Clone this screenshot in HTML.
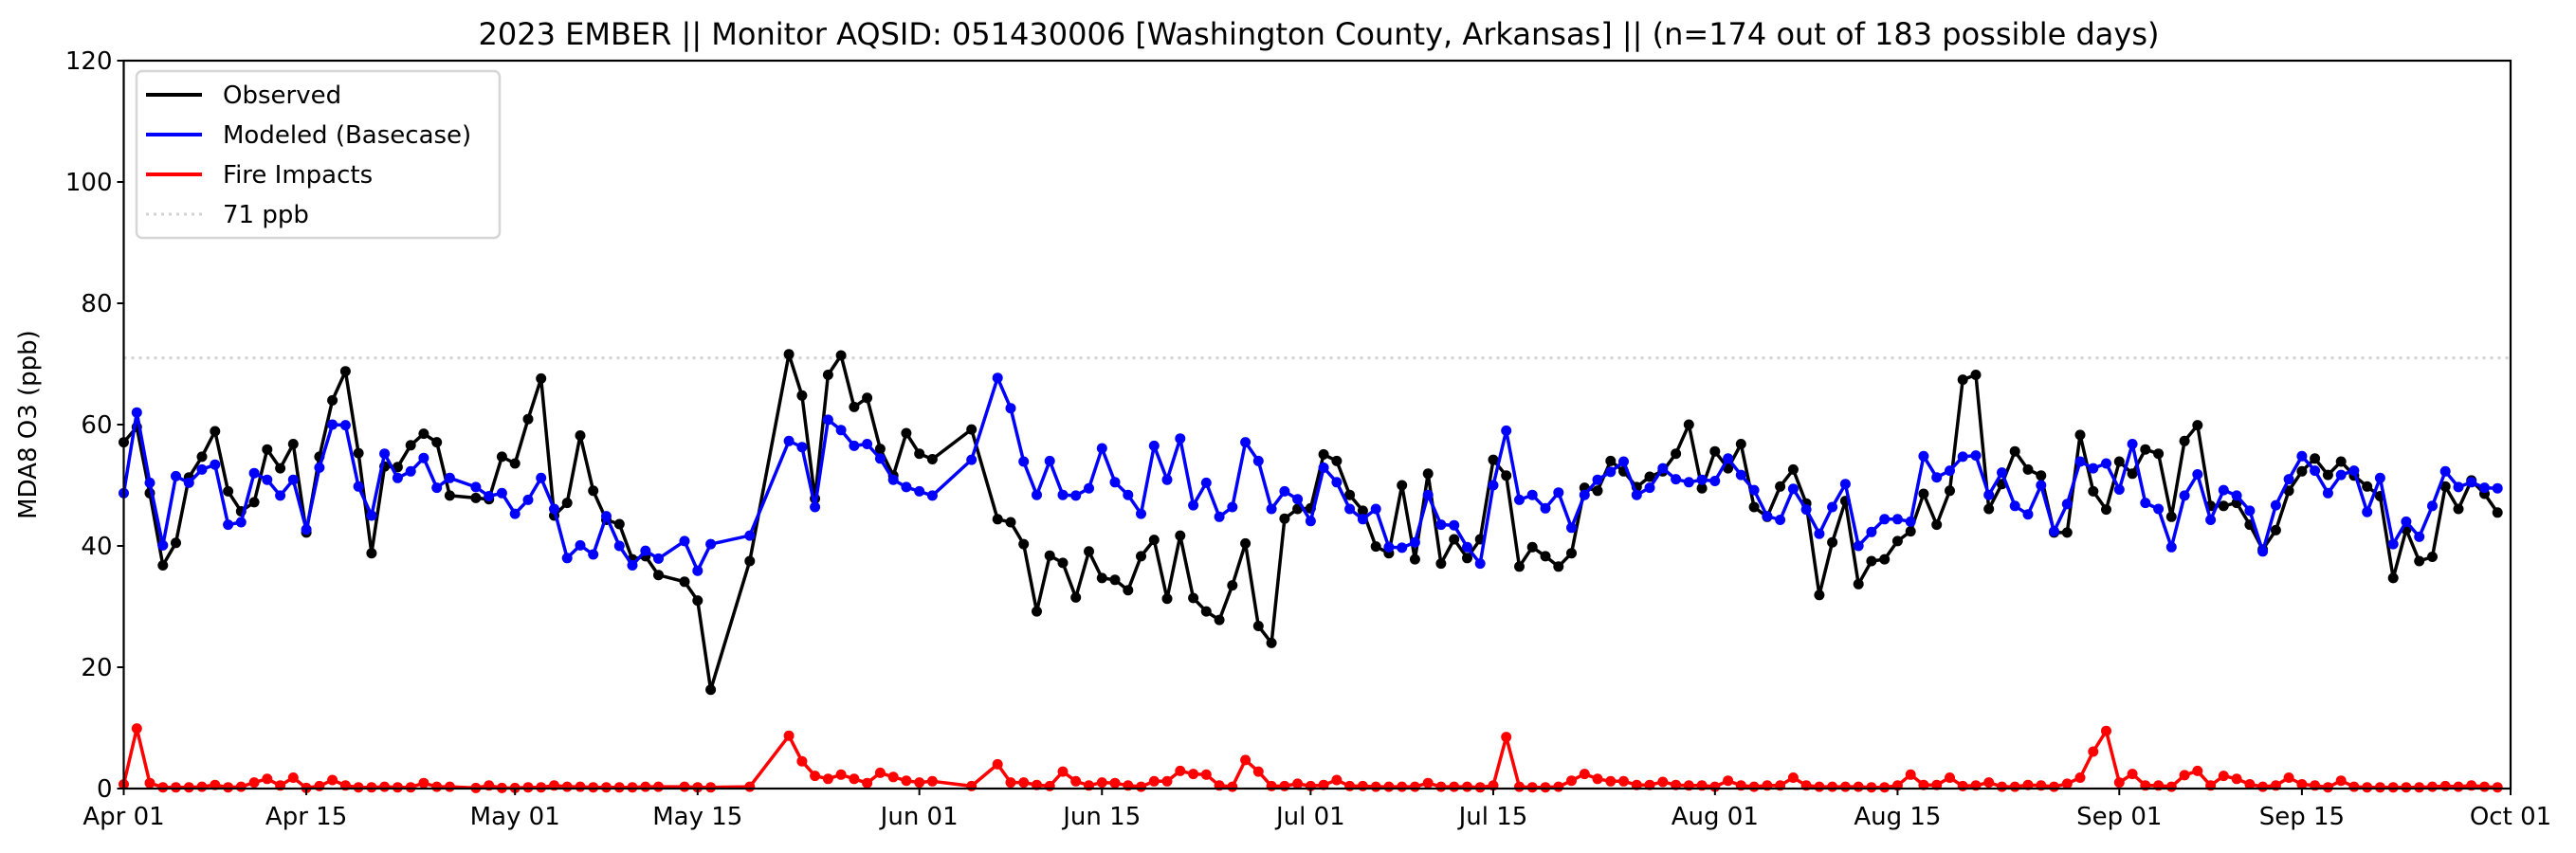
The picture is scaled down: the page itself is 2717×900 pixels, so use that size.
<!DOCTYPE html>
<html><head><meta charset="utf-8"><style>
html,body{margin:0;padding:0;background:#fff;}
svg{display:block;font-family:"DejaVu Sans","Liberation Sans",sans-serif;}
</style></head><body>
<svg id="chart" width="2717" height="900" viewBox="0 0 2717 900" xmlns="http://www.w3.org/2000/svg">
<rect x="0" y="0" width="2717" height="900" fill="#fff"/>
<text x="1391" y="47" font-size="32" text-anchor="middle">2023 EMBER || Monitor AQSID: 051430006 [Washington County, Arkansas] || (n=174 out of 183 possible days)</text>
<text transform="translate(38,448) rotate(-90)" font-size="26" text-anchor="middle">MDA8 O3 (ppb)</text>
<g id="grid"></g>
<g id="series"></g>
<g id="axes"></g>
<g>
<rect x="144" y="75" width="383" height="176" rx="6" fill="#fff" fill-opacity="0.8" stroke="#d6d6d6" stroke-width="2.5"/>
<line x1="154" y1="100" x2="213" y2="100" stroke="#000" stroke-width="4"/>
<text x="235" y="109" font-size="26">Observed</text>
<line x1="154" y1="142" x2="213" y2="142" stroke="#0000ff" stroke-width="4"/>
<text x="235" y="151" font-size="26">Modeled (Basecase)</text>
<line x1="154" y1="184" x2="213" y2="184" stroke="#ff0000" stroke-width="4"/>
<text x="235" y="193" font-size="26">Fire Impacts</text>
<line x1="154" y1="226" x2="213" y2="226" stroke="#d3d3d3" stroke-width="3" stroke-dasharray="3,5"/>
<text x="235" y="235" font-size="26">71 ppb</text>
</g>
</svg>
<script>
const N = null;
const observed = [57.1,59.6,48.7,36.8,40.5,51.3,54.7,58.9,49,45.7,47.2,55.9,52.8,56.8,42.2,54.7,64,68.8,55.3,38.8,53.1,53,56.6,58.5,57.1,48.3,N,47.9,47.7,54.7,53.6,60.9,67.6,45,47.1,58.2,49.1,44.3,43.6,37.8,38.3,35.2,N,34.1,31,16.3,N,N,37.5,N,N,71.6,64.8,47.8,68.2,71.4,62.9,64.4,56,51.6,58.6,55.2,54.3,N,N,59.2,N,44.4,43.9,40.3,29.2,38.4,37.2,31.5,39.1,34.7,34.4,32.7,38.3,41,31.3,41.7,31.4,29.2,27.8,33.5,40.4,26.8,24,44.5,46.1,46.2,55.1,54,48.4,45.8,39.9,38.8,50,37.8,51.9,37.1,41.1,38,41.1,54.2,51.6,36.6,39.8,38.3,36.6,38.8,49.6,49.1,54,52.3,49.7,51.4,52.3,55.2,60,49.5,55.6,52.8,56.8,46.4,44.8,49.8,52.6,47,31.9,40.6,47.4,33.7,37.5,37.8,40.8,42.4,48.6,43.5,49.1,67.4,68.2,46.1,50.2,55.6,52.6,51.6,42.2,42.2,58.3,49,46,53.9,51.9,55.9,55.2,44.8,57.3,59.9,46.6,46.6,47.1,43.5,39.4,42.6,49.1,52.3,54.4,51.7,53.9,51.6,49.8,48.2,34.7,42.7,37.5,38.2,49.8,46.1,50.8,48.6,45.5];
const modeled = [48.7,62,50.4,40.1,51.5,50.4,52.6,53.4,43.5,43.9,52,50.9,48.3,50.9,42.7,52.9,60,59.9,49.8,45,55.2,51.2,52.3,54.5,49.6,51.2,N,49.7,48.2,48.7,45.3,47.6,51.2,46.1,38,40.1,38.6,44.9,40,36.8,39.2,37.9,N,40.8,35.9,40.3,N,N,41.7,N,N,57.3,56.3,46.4,60.8,59.1,56.5,56.8,54.4,50.9,49.7,49,48.3,N,N,54.2,N,67.7,62.7,53.9,48.4,54,48.4,48.3,49.5,56.1,50.5,48.4,45.3,56.5,50.9,57.7,46.7,50.4,44.8,46.4,57.1,54,46.1,49,47.7,44.1,52.9,50.5,46.1,44.4,46.1,39.8,39.7,40.6,48.4,43.5,43.4,39.8,37.1,50,59,47.6,48.4,46.2,48.8,43,48.4,50.9,52.2,53.9,48.4,49.6,52.8,51,50.5,50.9,50.7,54.4,51.7,49.2,44.9,44.3,49.4,46,42,46.4,50.2,40,42.3,44.4,44.4,44,54.8,51.3,52.4,54.7,54.9,48.4,52.1,46.6,45.2,50,42.4,46.9,53.9,52.8,53.6,49.3,56.8,47.1,46.1,39.8,48.3,51.8,44.3,49.2,48.3,45.8,39.1,46.7,51,54.8,52.4,48.7,51.7,52.4,45.6,51.2,40.3,44,41.5,46.6,52.3,49.7,50.5,49.6,49.5];
const fire = [0.7,9.9,0.9,0.2,0.2,0.2,0.3,0.6,0.2,0.3,1,1.6,0.5,1.8,0.1,0.4,1.4,0.5,0.2,0.2,0.3,0.2,0.2,0.9,0.3,0.3,N,0.1,0.5,0.1,0.1,0.2,0.2,0.5,0.3,0.3,0.2,0.2,0.2,0.2,0.3,0.3,N,0.3,0.2,0.2,N,N,0.3,N,N,8.7,4.5,2.1,1.6,2.3,1.6,0.9,2.6,1.9,1.3,1,1.2,N,N,0.4,N,4,1,1,0.6,0.4,2.8,1.2,0.5,1,0.9,0.5,0.3,1.2,1.2,2.9,2.4,2.3,0.5,0.3,4.7,2.8,0.4,0.4,0.8,0.4,0.6,1.4,0.4,0.4,0.3,0.3,0.3,0.3,0.9,0.3,0.3,0.3,0.2,0.5,8.5,0.3,0.2,0.2,0.3,1.3,2.4,1.6,1.2,1.2,0.6,0.6,1.1,0.6,0.5,0.5,0.3,1.3,0.5,0.3,0.5,0.5,1.8,0.5,0.3,0.3,0.3,0.3,0.2,0.2,0.5,2.3,0.6,0.6,1.8,0.4,0.5,1,0.3,0.3,0.6,0.5,0.3,0.8,1.8,6.1,9.5,1,2.4,0.5,0.5,0.3,2.2,2.9,0.5,2.1,1.6,0.7,0.3,0.5,1.8,0.7,0.5,0.2,1.3,0.3,0.2,0.2,0.2,0.2,0.2,0.3,0.4,0.3,0.5,0.3,0.2];
const xTickDays = [0,14,30,44,61,75,91,105,122,136,153,167,183];
const xTickLabels = ["Apr 01","Apr 15","May 01","May 15","Jun 01","Jun 15","Jul 01","Jul 15","Aug 01","Aug 15","Sep 01","Sep 15","Oct 01"];
const yTicks = [0,20,40,60,80,100,120];
const threshold = [71];

const L=130.5, R=2648, T=64, B=832, XMAX=183, YMAX=120;
const NS="http://www.w3.org/2000/svg";
function xs(d){return L+(R-L)*d/XMAX;}
function ys(v){return B-(B-T)*v/YMAX;}
function mk(tag,attrs,parent){const e=document.createElementNS(NS,tag);for(const k in attrs)e.setAttribute(k,attrs[k]);parent.appendChild(e);return e;}

const grid=document.getElementById('grid');
const th=mk('line',{x1:L,x2:R,y1:ys(threshold[0]),y2:ys(threshold[0]),stroke:'#d3d3d3','stroke-width':3,'stroke-dasharray':'3,5'},grid);



const series=document.getElementById('series');
function drawSeries(vals,color,name){
  const g=mk('g',{},series);
  
  
  let d='';
  vals.forEach((v,i)=>{if(v===null)return;d+=(d?'L':'M')+xs(i).toFixed(1)+','+ys(v).toFixed(1);});
  const p=mk('path',{d:d,fill:'none',stroke:color,'stroke-width':3.5,'stroke-linejoin':'round'},g);
  
  
  vals.forEach((v,i)=>{if(v===null)return;
    const c=mk('circle',{cx:xs(i).toFixed(1),cy:ys(v).toFixed(1),r:5.5,fill:color},g);
    
    
  });
}
drawSeries(observed,'#000000','observed');
drawSeries(modeled,'#0000ff','modeled');
drawSeries(fire,'#ff0000','fire-impacts');

const axes=document.getElementById('axes');
const frame=mk('rect',{x:L,y:T,width:R-L,height:B-T,fill:'none',stroke:'#000','stroke-width':2.2},axes);


yTicks.forEach(v=>{
  const t=mk('line',{x1:L-7,x2:L,y1:ys(v),y2:ys(v),stroke:'#000','stroke-width':2},axes);
  
  
  const tx=mk('text',{x:L-12,y:ys(v)+9,'font-size':26,'text-anchor':'end'},axes);
  tx.textContent=v;
  
  
});
xTickDays.forEach((d,i)=>{
  const t=mk('line',{x1:xs(d),x2:xs(d),y1:B,y2:B+7,stroke:'#000','stroke-width':2},axes);
  
  
  const tx=mk('text',{x:xs(d),y:B+38,'font-size':26,'text-anchor':'middle'},axes);
  tx.textContent=xTickLabels[i];
  
  
});
</script>
</body></html>
